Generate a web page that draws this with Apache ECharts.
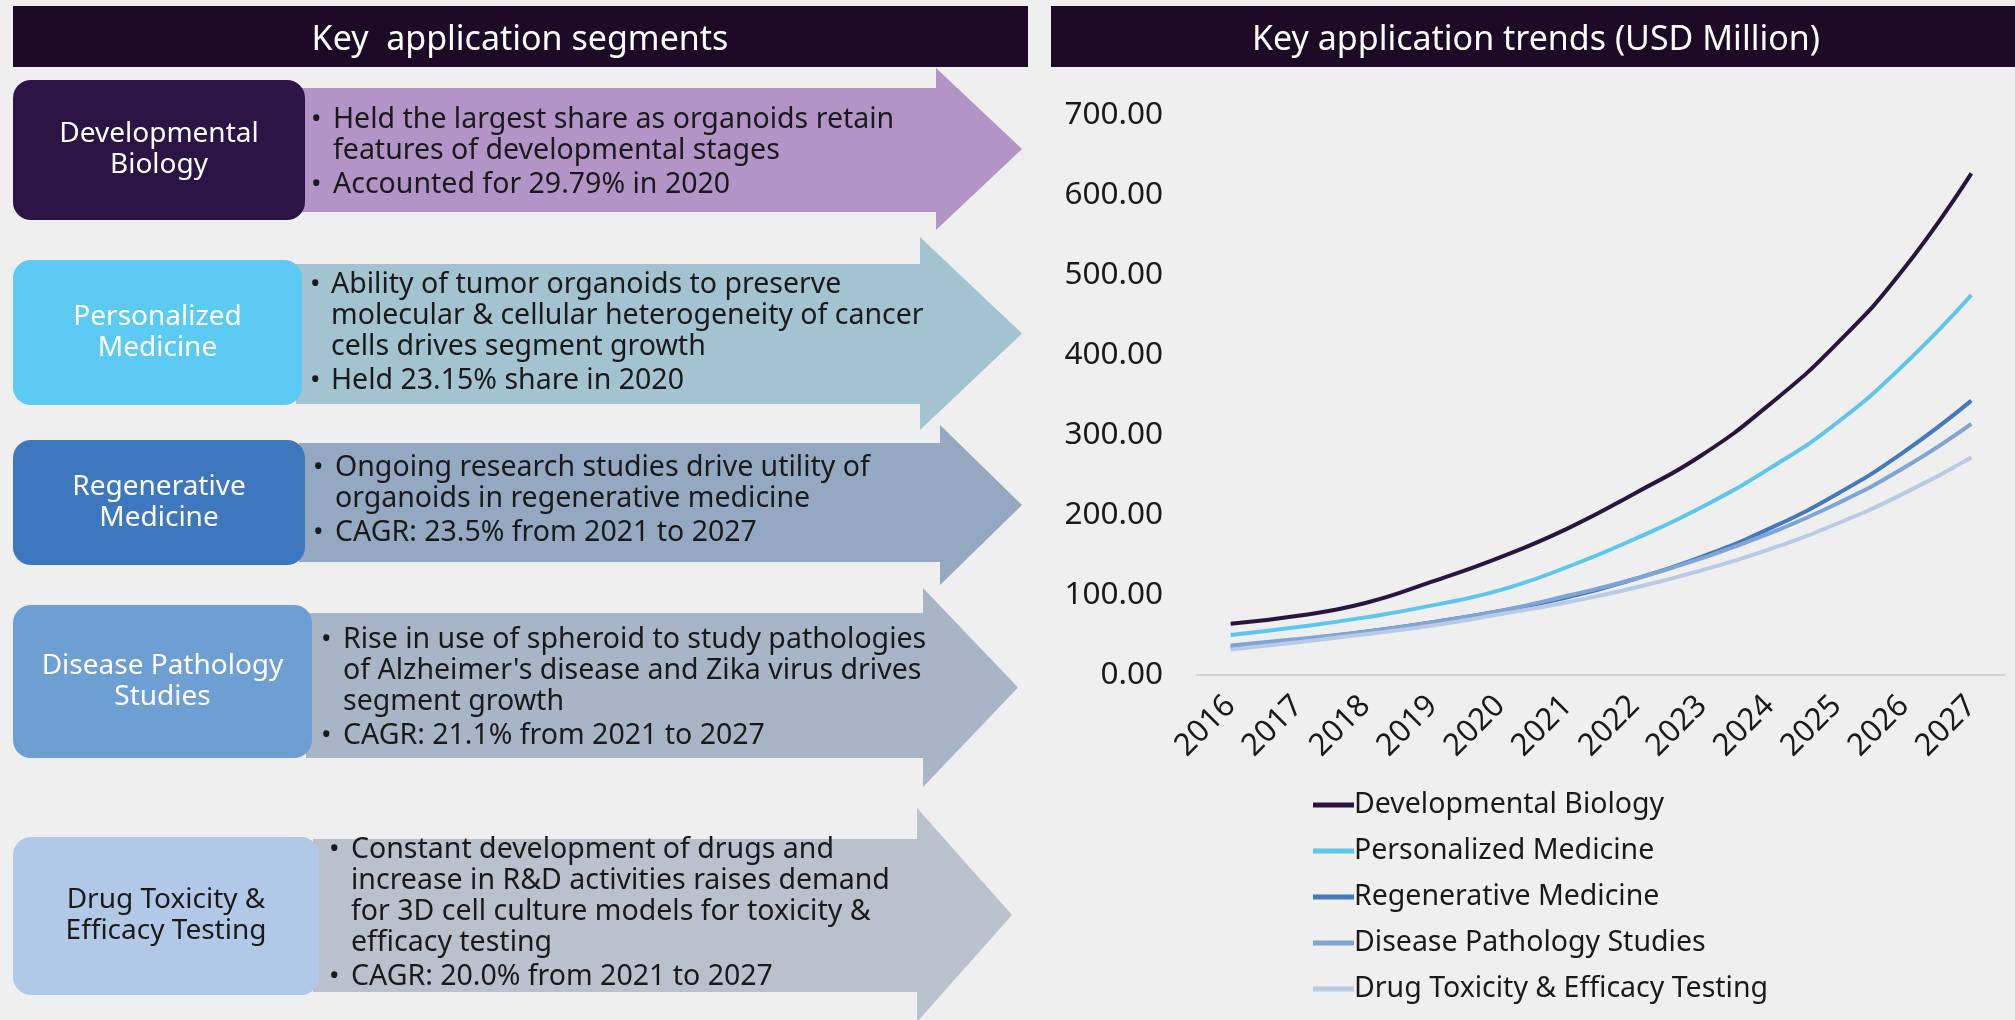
<!DOCTYPE html>
<html>
<head>
<meta charset="UTF-8">
<title>Key application segments</title>
<script src="https://cdn.jsdelivr.net/npm/echarts@6/dist/echarts.min.js"></script>
<style>
html, body { margin: 0; padding: 0; background: #efefef; }
#main { width: 2015px; height: 1020px; }
</style>
</head>
<body>
<div id="main"></div>
<script>
// ---- data ----
var years = ['2016', '2017', '2018', '2019', '2020', '2021', '2022', '2023', '2024', '2025', '2026', '2027'];
var seriesNames = ['Developmental Biology', 'Personalized Medicine', 'Regenerative Medicine', 'Disease Pathology Studies', 'Drug Toxicity & Efficacy Testing'];
var devBiology   = [64, 74, 90, 117, 147, 183, 227, 275, 338, 414, 508, 627];
var personalized = [50, 60, 72, 87, 106, 135, 170, 210, 258, 315, 388, 475];
var regenerative = [35, 44, 54, 66, 80, 97, 120, 148, 183, 226, 279, 343];
var disease      = [37, 45, 54, 66, 80, 99, 120, 146, 177, 214, 259, 314];
var drugTox      = [32, 41, 51, 62, 76, 91, 109, 131, 157, 189, 227, 272];
var yMin = 0, yMax = 700, yStep = 100;

var segmentNames = ['Developmental\nBiology', 'Personalized\nMedicine', 'Regenerative\nMedicine', 'Disease Pathology\nStudies', 'Drug Toxicity &\nEfficacy Testing'];
var segmentNotes = [
  [['Held the largest share as organoids retain', 'features of developmental stages'], ['Accounted for 29.79% in 2020']],
  [['Ability of tumor organoids to preserve', 'molecular & cellular heterogeneity of cancer', 'cells drives segment growth'], ['Held 23.15% share in 2020']],
  [['Ongoing research studies drive utility of', 'organoids in regenerative medicine'], ['CAGR: 23.5% from 2021 to 2027']],
  [['Rise in use of spheroid to study pathologies', 'of Alzheimer\'s disease and Zika virus drives', 'segment growth'], ['CAGR: 21.1% from 2021 to 2027']],
  [['Constant development of drugs and', 'increase in R&D activities raises demand', 'for 3D cell culture models for toxicity &', 'efficacy testing'], ['CAGR: 20.0% from 2021 to 2027']]
];

// ---- layout of the left panel ----
var FONT = '"Noto Sans", "Open Sans", sans-serif';
var lineColors = ['#2a1540', '#5cc6ec', '#4479bd', '#7ea5d5', '#b8cae4'];
var rows = [
  { top: 80,  bot: 220, boxR: 305, bTop: 88,  bBot: 212, headX: 936, hTop: 68,  hBot: 230, tipX: 1022, bulletX: 311, textX: 333, line0: 120, box: '#2c1444', arrow: '#b394c7', label: '#ffffff' },
  { top: 260, bot: 405, boxR: 302, bTop: 264, bBot: 404, headX: 920, hTop: 237, hBot: 430, tipX: 1022, bulletX: 310, textX: 331, line0: 285, box: '#5ccaf2', arrow: '#a4c3d1', label: '#ffffff' },
  { top: 440, bot: 565, boxR: 305, bTop: 443, bBot: 562, headX: 940, hTop: 425, hBot: 585, tipX: 1022, bulletX: 313, textX: 335, line0: 468, box: '#3d78be', arrow: '#94a9c1', label: '#ffffff' },
  { top: 605, bot: 758, boxR: 312, bTop: 613, bBot: 758, headX: 923, hTop: 588, hBot: 787, tipX: 1018, bulletX: 321, textX: 343, line0: 640, box: '#6e9fd3', arrow: '#a7b5c7', label: '#ffffff' },
  { top: 837, bot: 995, boxR: 319, bTop: 839, bBot: 992, headX: 917, hTop: 808, hBot: 1022, tipX: 1012, bulletX: 329, textX: 351, line0: 850, box: '#b1c9e7', arrow: '#b8c1cc', label: '#1a1a1a' }
];

var graphics = [];
// headers
graphics.push({ type: 'rect', shape: { x: 13, y: 6, width: 1015, height: 61 }, style: { fill: '#1c0a27' } });
graphics.push({ type: 'text', x: 520, y: 40, style: { text: 'Key  application segments', fill: '#fff', font: '34px ' + FONT, align: 'center', verticalAlign: 'middle' } });
graphics.push({ type: 'rect', shape: { x: 1051, y: 6, width: 964, height: 61 }, style: { fill: '#1c0a27' } });
graphics.push({ type: 'text', x: 1536, y: 40, style: { text: 'Key application trends (USD Million)', fill: '#fff', font: '34px ' + FONT, align: 'center', verticalAlign: 'middle' } });

rows.forEach(function (r, i) {
  var tipY = (r.hTop + r.hBot) / 2;
  graphics.push({
    type: 'polygon',
    shape: { points: [[r.boxR - 6, r.bTop], [r.headX, r.bTop], [r.headX, r.hTop], [r.tipX, tipY], [r.headX, r.hBot], [r.headX, r.bBot], [r.boxR - 6, r.bBot]] },
    style: { fill: r.arrow }
  });
  graphics.push({ type: 'rect', shape: { x: 13, y: r.top, width: r.boxR - 13, height: r.bot - r.top, r: 18 }, style: { fill: r.box } });
  graphics.push({
    type: 'text', x: (13 + r.boxR) / 2, y: (r.top + r.bot) / 2,
    style: { text: segmentNames[i], fill: r.label, font: '28px ' + FONT, align: 'center', verticalAlign: 'middle', lineHeight: 31 }
  });
  var y = r.line0;
  segmentNotes[i].forEach(function (bullet, b) {
    if (b > 0) y += 34;
    graphics.push({ type: 'text', x: r.bulletX, y: y, style: { text: '\u2022', fill: '#1a1a1a', font: '28px ' + FONT, verticalAlign: 'middle' } });
    bullet.forEach(function (ln, k) {
      if (k > 0) y += 31;
      graphics.push({ type: 'text', x: r.textX, y: y, style: { text: ln, fill: '#1a1a1a', font: '28.5px ' + FONT, verticalAlign: 'middle' } });
    });
  });
});

// ---- chart ----
var myChart = echarts.init(document.getElementById('main'));
var seriesData = [devBiology, personalized, regenerative, disease, drugTox];
var series = [];
for (var i = 0; i < seriesNames.length; i++) {
  series.push({
    name: seriesNames[i],
    type: 'line',
    smooth: true,
    symbol: 'none',
    data: seriesData[i],
    lineStyle: { width: 4, color: lineColors[i] },
    itemStyle: { color: lineColors[i] }
  });
}

var option = {
  backgroundColor: '#efefef',
  animation: false,
  textStyle: { fontFamily: FONT },
  grid: { left: 1197, right: 10, top: 115, bottom: 345 },
  legend: {
    orient: 'vertical',
    left: 1308,
    top: 785,
    icon: 'rect',
    itemWidth: 41,
    itemHeight: 5,
    itemGap: 16,
    textStyle: { fontSize: 28.5, color: '#1a1a1a', lineHeight: 30, fontFamily: FONT, padding: [0, 0, 0, -5] },
    data: seriesNames
  },
  xAxis: {
    type: 'category',
    data: years,
    axisLine: { lineStyle: { color: '#d4d4d4', width: 2 } },
    axisTick: { show: false },
    axisLabel: { rotate: 45, fontSize: 31, color: '#1a1a1a', margin: 26, interval: 0 }
  },
  yAxis: {
    type: 'value',
    min: yMin, max: yMax, interval: yStep,
    axisLine: { show: false },
    axisTick: { show: false },
    splitLine: { show: false },
    axisLabel: { fontSize: 31.5, color: '#1a1a1a', margin: 34, formatter: function (v) { return v.toFixed(2); } }
  },
  graphic: graphics,
  series: series
};
myChart.setOption(option);
</script>
</body>
</html>
